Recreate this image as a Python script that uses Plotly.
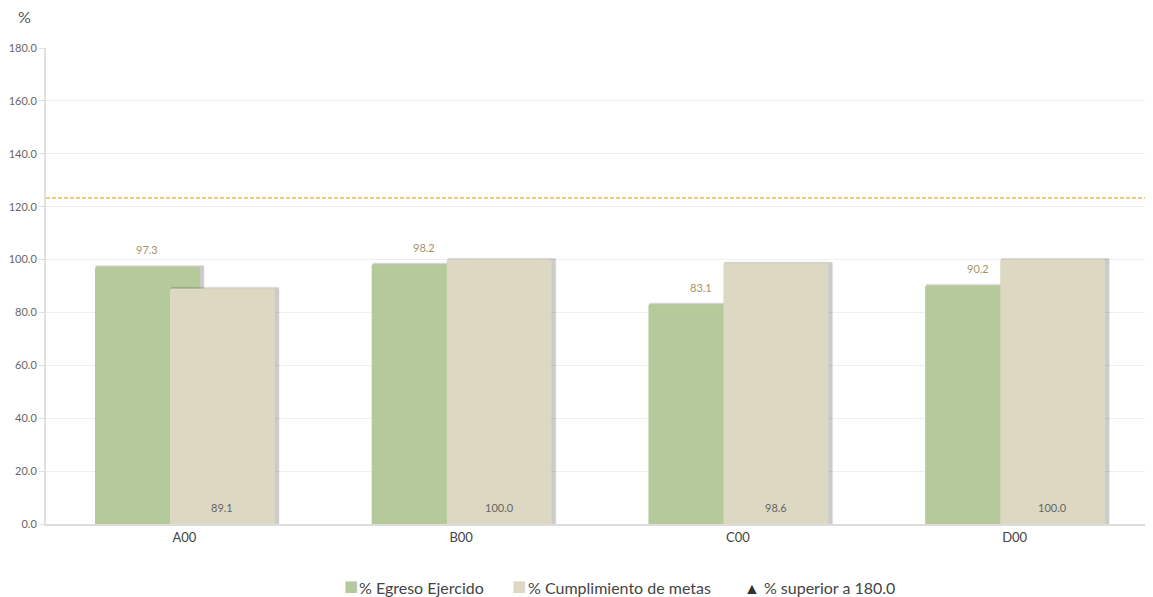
import plotly.graph_objects as go

categories = ["A00", "B00", "C00", "D00"]
egreso = [97.3, 98.2, 83.1, 90.2]
cumplimiento = [89.1, 100.0, 98.6, 100.0]
threshold = 123.3
y_ticks = [0, 20, 40, 60, 80, 100, 120, 140, 160, 180]
legend_names = ["% Egreso Ejercido", "% Cumplimiento de metas", "% superior a 180.0"]

GREEN = "#b6c99b"
BEIGE = "#ddd8c2"
FONT = "Lato"

PAGE_OFF = 8  # default body margin of the html page
W, H = 1153 - PAGE_OFF, 597 - PAGE_OFF
ML, MR, MT, MB = 46 - PAGE_OFF, 0, 48 - PAGE_OFF, 73
plot_w = W - ML - MR
plot_h = H - MT - MB
px_x = 1.0 / (plot_w / 4)      # category units per pixel
px_y = 180.0 / plot_h          # value units per pixel


def paper_x(page_px):
    return (page_px - PAGE_OFF - ML) / plot_w


def paper_y(page_py):
    return (H - MB - (page_py - PAGE_OFF)) / plot_h


bar_w = 0.379
off_g = -0.323
off_b = -0.052
xpos = list(range(len(categories)))

fig = go.Figure()


def add_series(vals, off, color, name):
    # soft drop shadow (two layers)
    fig.add_trace(go.Bar(
        x=xpos, y=[v + 2.0 * px_y for v in vals], width=bar_w + 5 * px_x,
        offset=off,
        marker=dict(color="rgba(0,0,0,0.05)", line=dict(width=0), cornerradius=3),
        showlegend=False, hoverinfo="skip"))
    fig.add_trace(go.Bar(
        x=xpos, y=[v + 1.0 * px_y for v in vals], width=bar_w + 3 * px_x,
        offset=off + 1 * px_x,
        marker=dict(color="rgba(0,0,0,0.16)", line=dict(width=0), cornerradius=2),
        showlegend=False, hoverinfo="skip"))
    fig.add_trace(go.Bar(
        name=name, x=xpos, y=vals, width=bar_w, offset=off,
        marker=dict(color=color, line=dict(width=0), cornerradius=2),
        showlegend=False))


add_series(egreso, off_g, GREEN, legend_names[0])
add_series(cumplimiento, off_b, BEIGE, legend_names[1])

annotations = []
for i, v in enumerate(egreso):
    annotations.append(dict(x=i + off_g + bar_w / 2, y=v, xref="x", yref="y",
                            text=f"{v:.1f}", showarrow=False, yanchor="middle", yshift=17,
                            font=dict(family=FONT, size=11, color="#a39467")))
for i, v in enumerate(cumplimiento):
    annotations.append(dict(x=i + off_b + bar_w / 2, y=0, xref="x", yref="y",
                            text=f"{v:.1f}", showarrow=False, yanchor="middle", yshift=17,
                            font=dict(family=FONT, size=11, color="#666666")))

# "%" axis title
annotations.append(dict(text="%", xref="paper", yref="paper",
                        x=paper_x(16), y=paper_y(16),
                        xanchor="left", yanchor="middle", showarrow=False,
                        font=dict(family=FONT, size=16, color="#555555")))

# legend drawn as text: colour swatches + labels
LEG_Y = 587
swatches = [(351, GREEN), (519, BEIGE)]
for cx, col in swatches:
    annotations.append(dict(text="■", xref="paper", yref="paper",
                            x=paper_x(cx), y=paper_y(LEG_Y - 1), xanchor="center", yanchor="middle",
                            showarrow=False,
                            font=dict(family="DejaVu Sans", size=15, color=col)))
leg_items = [
    (357, legend_names[0]),
    (526, legend_names[1]),
    (742, f"<span style='color:#333333'>▲</span> {legend_names[2]}"),
]
for px, txt in leg_items:
    annotations.append(dict(text=txt, xref="paper", yref="paper",
                            x=paper_x(px), y=paper_y(LEG_Y), xanchor="left", yanchor="middle",
                            showarrow=False,
                            font=dict(family=FONT, size=16, color="#444444")))

fig.add_shape(type="line", xref="paper", x0=0, x1=1, yref="y", y0=threshold, y1=threshold,
              line=dict(color="#d99c00", width=1, dash="4px,2px"))

fig.update_layout(
    width=W, height=H,
    barmode="overlay",
    plot_bgcolor="white", paper_bgcolor="white",
    margin=dict(l=ML, r=MR, t=MT, b=MB, autoexpand=False),
    font=dict(family=FONT, color="#555555"),
    showlegend=False,
    xaxis=dict(range=[-0.5, len(categories) - 0.5], tickvals=xpos, ticktext=categories,
               showline=True, linecolor="#dcdcdc", linewidth=2,
               ticks="", tickfont=dict(family=FONT, size=13, color="#444444"),
               showgrid=False, zeroline=False, fixedrange=True),
    yaxis=dict(range=[0, 180], tickvals=y_ticks, tickformat=".1f",
               showline=True, linecolor="#e0e0e0", linewidth=2,
               ticks="outside", ticklen=5, tickcolor="#e0e0e0",
               gridcolor="#efefef", gridwidth=1,
               tickfont=dict(family=FONT, size=11, color="#666666"),
               zeroline=False),
    annotations=annotations,
)

fig.write_html("out.html")
